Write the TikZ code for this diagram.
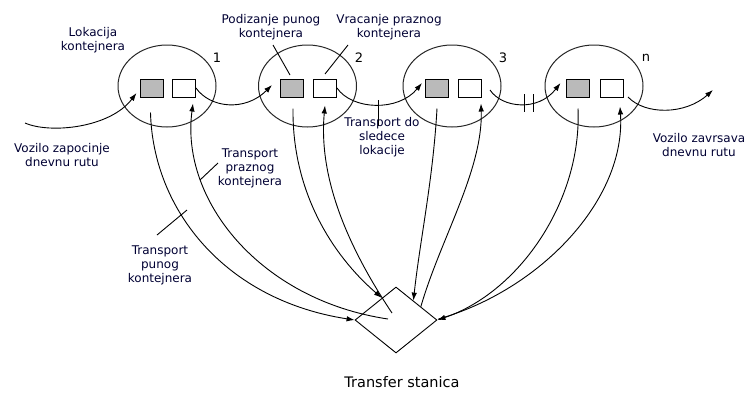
\documentclass[tikz,border=0pt]{standalone}
\usepackage{fontspec}
\setmainfont{DejaVu Sans}
\usetikzlibrary{shapes.geometric,arrows.meta,calc}
\begin{document}
\begin{tikzpicture}[x=1pt,y=-1pt,
 loc/.style={ellipse,draw=black!85,line width=1pt,minimum width=98pt,minimum height=82pt,inner sep=0},
 fullbox/.style={draw,fill=black!27,line width=1pt,minimum width=23pt,minimum height=18pt,inner sep=0},
 emptybox/.style={draw,fill=white,line width=1pt,minimum width=23pt,minimum height=18pt,inner sep=0},
 lbl/.style={font=\fontsize{12}{14}\selectfont,align=center,text=black!80!blue,inner sep=0},
 num/.style={font=\fontsize{13}{14}\selectfont,inner sep=0},
 conn/.style={line width=0.9pt,-{Latex[length=8pt,width=5.5pt]}},
 plainline/.style={line width=0.9pt},
]
\path[use as bounding box] (0,0) rectangle (749,394);

% locations
\node[loc] (e1) at (167,86) {};
\node[loc] (e2) at (307.5,86) {};
\node[loc] (e3) at (452,86) {};
\node[loc] (e4) at (594,86) {};

\node[fullbox] (g1) at (151.5,88) {};
\node[emptybox] (w1) at (184,88) {};
\node[fullbox] (g2) at (292,88) {};
\node[emptybox] (w2) at (325,88) {};
\node[fullbox] (g3) at (437,88) {};
\node[emptybox] (w3) at (470,88) {};
\node[fullbox] (g4) at (577.5,88) {};
\node[emptybox] (w4) at (612,88) {};

\node[num] (n1) at (217,58) {1};
\node[num] (n2) at (359,58) {2};
\node[num] (n3) at (503,58) {3};
\node[num] (n4) at (646,58) {n};

% transfer station
\node[diamond,draw,line width=0.9pt,minimum width=82pt,minimum height=66pt,inner sep=0,aspect=1.24] (ts) at (396,320) {};
\node[font=\fontsize{14.5}{16}\selectfont,inner sep=0] (tsl) at (402,382) {Transfer stanica};

% labels
\node[lbl] (lok) at (93,40) {Lokacija\\kontejnera};
\node[lbl] (pod) at (271,27) {Podizanje punog\\kontejnera};
\node[lbl] (vra) at (389,27) {Vracanje praznog\\kontejnera};
\node[lbl] (tds) at (382,137) {Transport do\\sledece\\lokacije};
\node[lbl] (vzp) at (62,155) {Vozilo zapocinje\\dnevnu rutu};
\node[lbl] (tpr) at (250,168) {Transport\\praznog\\kontejnera};
\node[lbl] (tpu) at (160,265) {Transport\\punog\\kontejnera};
\node[lbl] (vzv) at (699,145) {Vozilo zavrsava\\dnevnu rutu};

% route arcs
\coordinate (start) at (25,123);
\coordinate (finish) at (713,90);
\draw[conn] (start) .. controls (50,134) and (110,128) .. ($(g1.west)+(-3,5)$);
\draw[conn] (w1.east) .. controls (210,108) and (245,112) .. ($(g2.west)+(-8,-3)$);
\draw[conn] (w2.east) .. controls (352,110) and (398,112) .. ($(g3.west)+(-3,-5)$);
\draw[conn] ($(w3.east)+(8,2)$) .. controls (502,108) and (538,112) .. ($(g4.west)+(-5,-5)$);
\draw[conn] ($(w4.east)+(4,9)$) .. controls (645,115) and (685,115) .. (finish);

% marks on arcs
\draw[plainline] (378,100) -- (378,126);
\draw[plainline] (524,94) -- (524,112);
\draw[plainline] (533,94) -- (533,112);

% transports to / from the station
\coordinate (in1) at (388,319);
\coordinate (in2) at (392,313);
\draw[conn] ($(g1.south)+(-1,15)$) .. controls (153,210) and (225,300) .. (ts.west);
\draw[conn] (in1) .. controls (260,300) and (180,200) .. ($(w1.south)+(9,6)$);
\draw[conn] ($(g2.south)+(1,11)$) .. controls (292,200) and (340,262) .. ($(ts.north)!0.34!(ts.west)$);
\draw[conn] (in2) .. controls (350,250) and (318,180) .. ($(w2.south)+(0,8)$);
\draw[conn] ($(g3.south)+(0,11)$) .. controls (433,180) and (420,240) .. ($(ts.north)!0.42!(ts.east)$);
\draw[conn] ($(ts.north)!0.6!(ts.east)$) .. controls (440,240) and (483,170) .. ($(w3.south)+(11,6)$);
\draw[conn] ($(g4.south)+(0.5,11)$) .. controls (582,200) and (520,292) .. (ts.east);
\draw[conn] ($(ts.east)+(1,-1)$) .. controls (540,290) and (626,200) .. ($(w4.south)+(8,9)$);

% leader lines
\draw[plainline] (273,45) -- (290,75);
\draw[plainline] (348,45) -- (325,74);
\draw[plainline] (200,180) -- (218,163);
\draw[plainline] (157,235) -- (187,210);
\end{tikzpicture}
\end{document}
